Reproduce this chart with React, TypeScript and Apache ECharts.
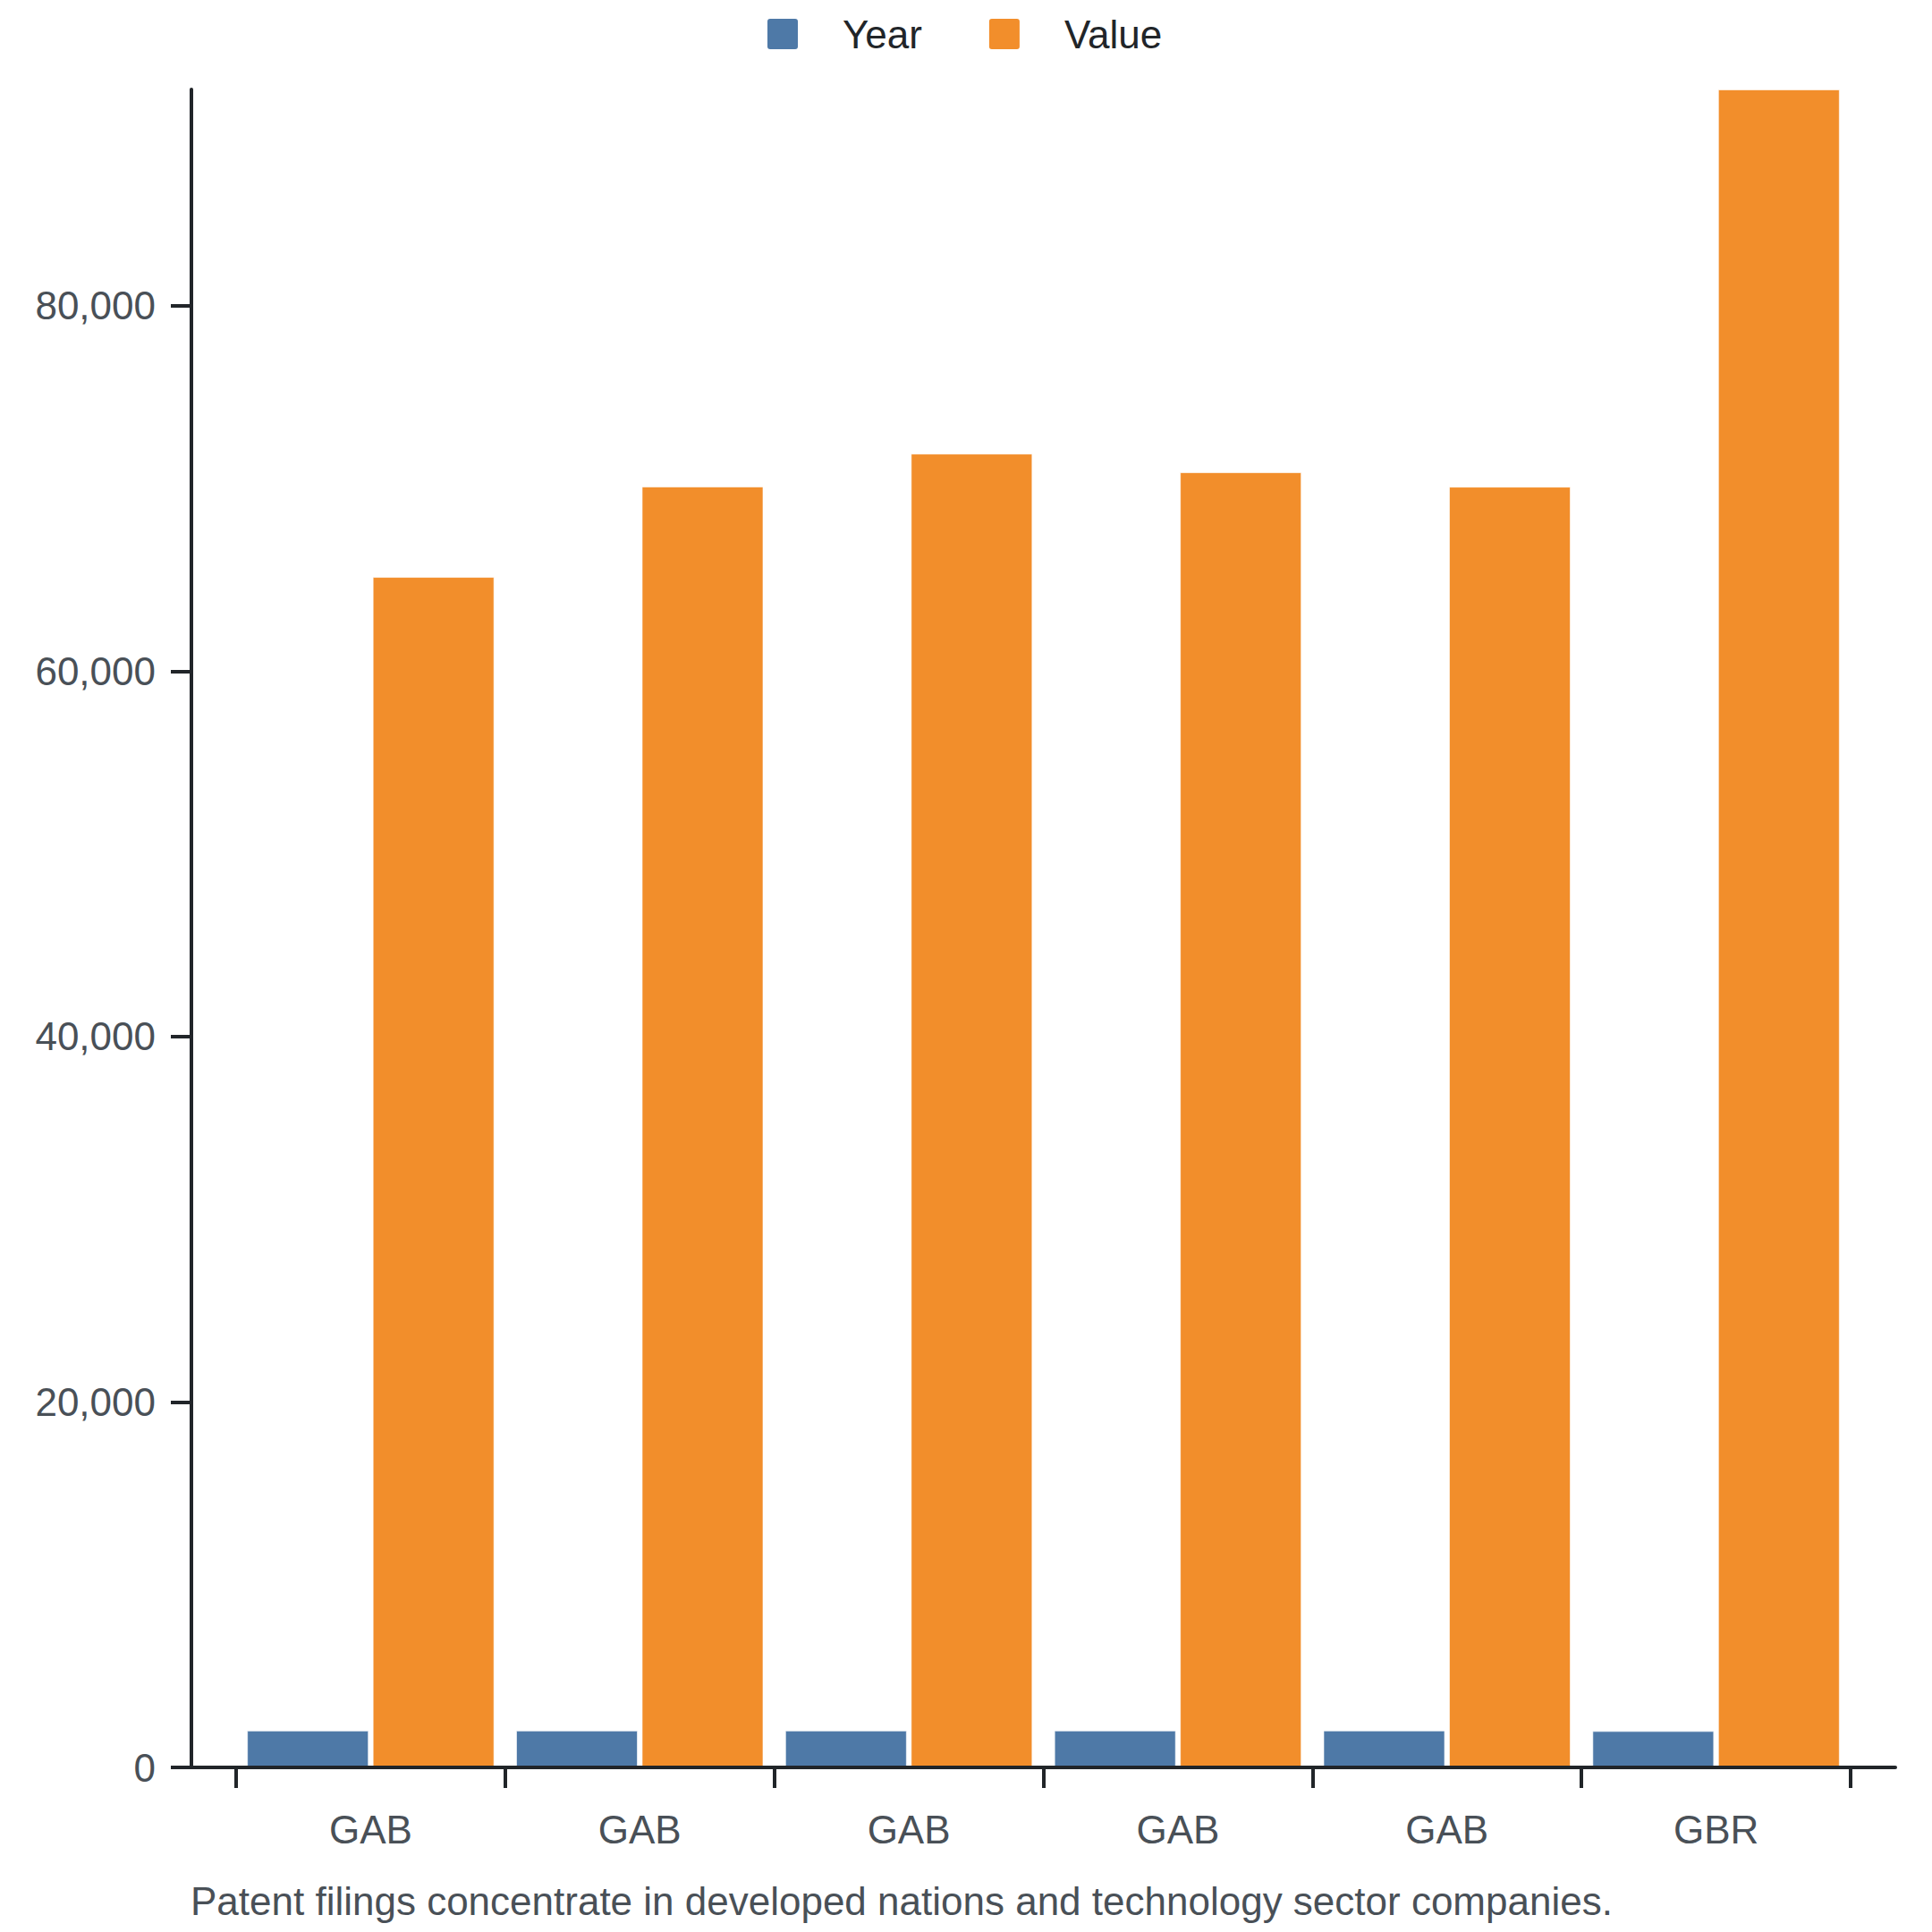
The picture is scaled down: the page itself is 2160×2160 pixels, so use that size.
import React, { useEffect, useRef } from 'react';
import * as echarts from 'echarts';

const categories = ['GAB', 'GAB', 'GAB', 'GAB', 'GAB', 'GBR'];
const yearValues = [2016, 2017, 2018, 2019, 2020, 1990];
const valueValues = [65150, 70100, 71900, 70880, 70090, 91830];
const yTicks = [0, 20000, 40000, 60000, 80000];
const seriesNames = ['Year', 'Value'];
const seriesColors = ['#4e79a7', '#f28e2b'];
const caption = 'Patent filings concentrate in developed nations and technology sector companies.';

const FONT = '"Liberation Sans", Arial, Helvetica, sans-serif';
const FONT_SIZE = 44;
const AXIS_COLOR = '#212529';
const LABEL_COLOR = '#495057';
const ICON = 'path://M3,0 H31 A3,3 0 0 1 34,3 V31 A3,3 0 0 1 31,34 H3 A3,3 0 0 1 0,31 V3 A3,3 0 0 1 3,0 Z';

export default function App() {
  const ref = useRef<HTMLDivElement>(null);
  useEffect(() => {
    document.body.style.margin = '0';
    const chart = echarts.init(ref.current!, null, { renderer: 'svg' });
    const lineStyle = { color: AXIS_COLOR, width: 4 };
    chart.setOption({
      animation: false,
      backgroundColor: '#ffffff',
      textStyle: { fontFamily: FONT },
      title: {
        text: caption,
        left: 213,
        top: 2103,
        padding: 0,
        textStyle: { fontSize: FONT_SIZE, fontWeight: 'normal', color: LABEL_COLOR, fontFamily: FONT },
      },
      legend: {
        data: seriesNames,
        left: 858,
        top: 16,
        padding: 0,
        itemWidth: 34,
        itemHeight: 34,
        itemGap: 75,
        icon: ICON,
        itemStyle: { borderWidth: 0 },
        textStyle: { fontSize: FONT_SIZE, color: AXIS_COLOR, fontFamily: FONT, padding: [0, 0, 0, 45] },
      },
      grid: [
        { left: 264, right: 91, top: 100, bottom: 184 },
        { left: 214, right: 41, top: 100, bottom: 184 },
      ],
      xAxis: [
        {
          type: 'category',
          gridIndex: 0,
          data: categories,
          boundaryGap: true,
          axisLine: { show: false },
          axisTick: { show: true, length: 23, lineStyle },
          axisLabel: { fontSize: FONT_SIZE, color: LABEL_COLOR, margin: 47, fontFamily: FONT },
          splitLine: { show: false },
        },
        {
          type: 'value',
          gridIndex: 1,
          min: 0,
          max: 1,
          z: 5,
          axisLine: { show: true, onZero: false, lineStyle },
          axisTick: { show: false },
          axisLabel: { show: false },
          splitLine: { show: false },
        },
      ],
      yAxis: [
        {
          type: 'value',
          gridIndex: 0,
          min: 0,
          max: 'dataMax',
          interval: 20000,
          offset: 50,
          z: 5,
          axisLine: { show: true, lineStyle },
          axisTick: { show: true, length: 23, lineStyle, customValues: yTicks },
          axisLabel: {
            customValues: yTicks,
            fontSize: FONT_SIZE,
            color: LABEL_COLOR,
            margin: 40,
            fontFamily: FONT,
            formatter: (v: number) => v.toLocaleString('en-US'),
          },
          splitLine: { show: false },
        },
        { type: 'value', gridIndex: 1, min: 0, max: 1, show: false },
      ],
      series: [
        {
          name: seriesNames[0],
          type: 'bar',
          xAxisIndex: 0,
          yAxisIndex: 0,
          data: yearValues,
          barWidth: 136,
          barGap: '3.3%',
          itemStyle: { color: seriesColors[0], borderColor: 'rgba(255,255,255,0.6)', borderWidth: 1 },
        },
        {
          name: seriesNames[1],
          type: 'bar',
          xAxisIndex: 0,
          yAxisIndex: 0,
          data: valueValues,
          barWidth: 136,
          barGap: '3.3%',
          itemStyle: { color: seriesColors[1], borderColor: 'rgba(255,255,255,0.6)', borderWidth: 1 },
        },
      ],
    });
    return () => chart.dispose();
  }, []);
  return <div ref={ref} style={{ width: 2160, height: 2160 }} />;
}
